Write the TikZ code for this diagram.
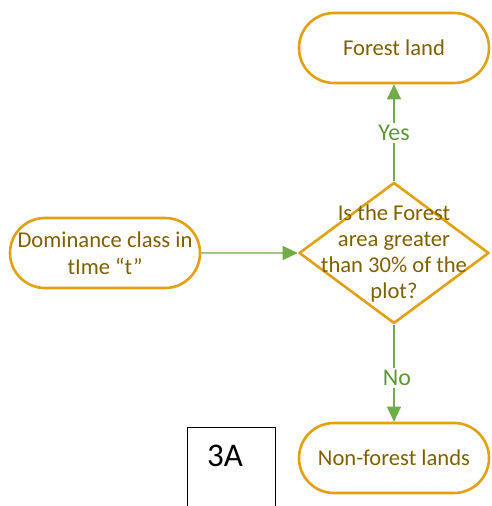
\documentclass[tikz,border=0pt]{standalone}
\usepackage{fontspec}
\setmainfont{Carlito}
\usetikzlibrary{arrows.meta,shapes.geometric,shapes.misc}
\definecolor{gold}{RGB}{226,160,18}
\definecolor{textbrown}{RGB}{127,96,0}
\definecolor{leaf}{RGB}{112,173,71}
\definecolor{leafdark}{RGB}{94,152,54}
\begin{document}
\begin{tikzpicture}[x=1pt, y=1pt, line join=round, >={Triangle[length=15pt,width=14pt]},
    term/.style={rounded rectangle, draw=gold, line width=2.6pt, minimum width=190pt, minimum height=70pt,
        inner sep=0pt, text=textbrown, align=center, font=\fontsize{22.6}{27}\selectfont},
    flow/.style={->, draw=leaf, fill=leaf, line width=1.2pt},
    lbl/.style={fill=white, text=leafdark, inner sep=2pt, font=\fontsize{24}{28}\selectfont}]
    \useasboundingbox (0,0) rectangle (491,506);
    % terminals
    \node[term] (dom) at (105,253) {Dominance class in\\tIme “t”};
    \node[term] (fl) at (394,458) {Forest land};
    \node[term] (nf) at (394,48) {Non-forest lands};
    % decision
    \node[diamond, draw=gold, line width=2.6pt, minimum width=190pt, minimum height=141pt, inner sep=0pt] (q) at (394,253) {};
    \node[text=textbrown, align=center, font=\fontsize{22.6}{26}\selectfont] (qtxt) at (q.center) {Is the Forest\\area greater\\than 30\% of the\\plot?};
    % connectors
    \draw[flow] (dom) -- (q);
    \draw[flow] (q.north) -- node[lbl, pos=.5] (yes) {Yes} (fl.south);
    \draw[flow] (q.south) -- node[lbl, pos=.55, xshift=3pt] (no) {No} (nf.north);
    % panel tag
    \draw[line width=.8pt] (187,-2) rectangle (275,79);
    \node[font=\fontsize{33}{36}\selectfont] (tag) at (225,50) {3A};
\end{tikzpicture}
\end{document}
